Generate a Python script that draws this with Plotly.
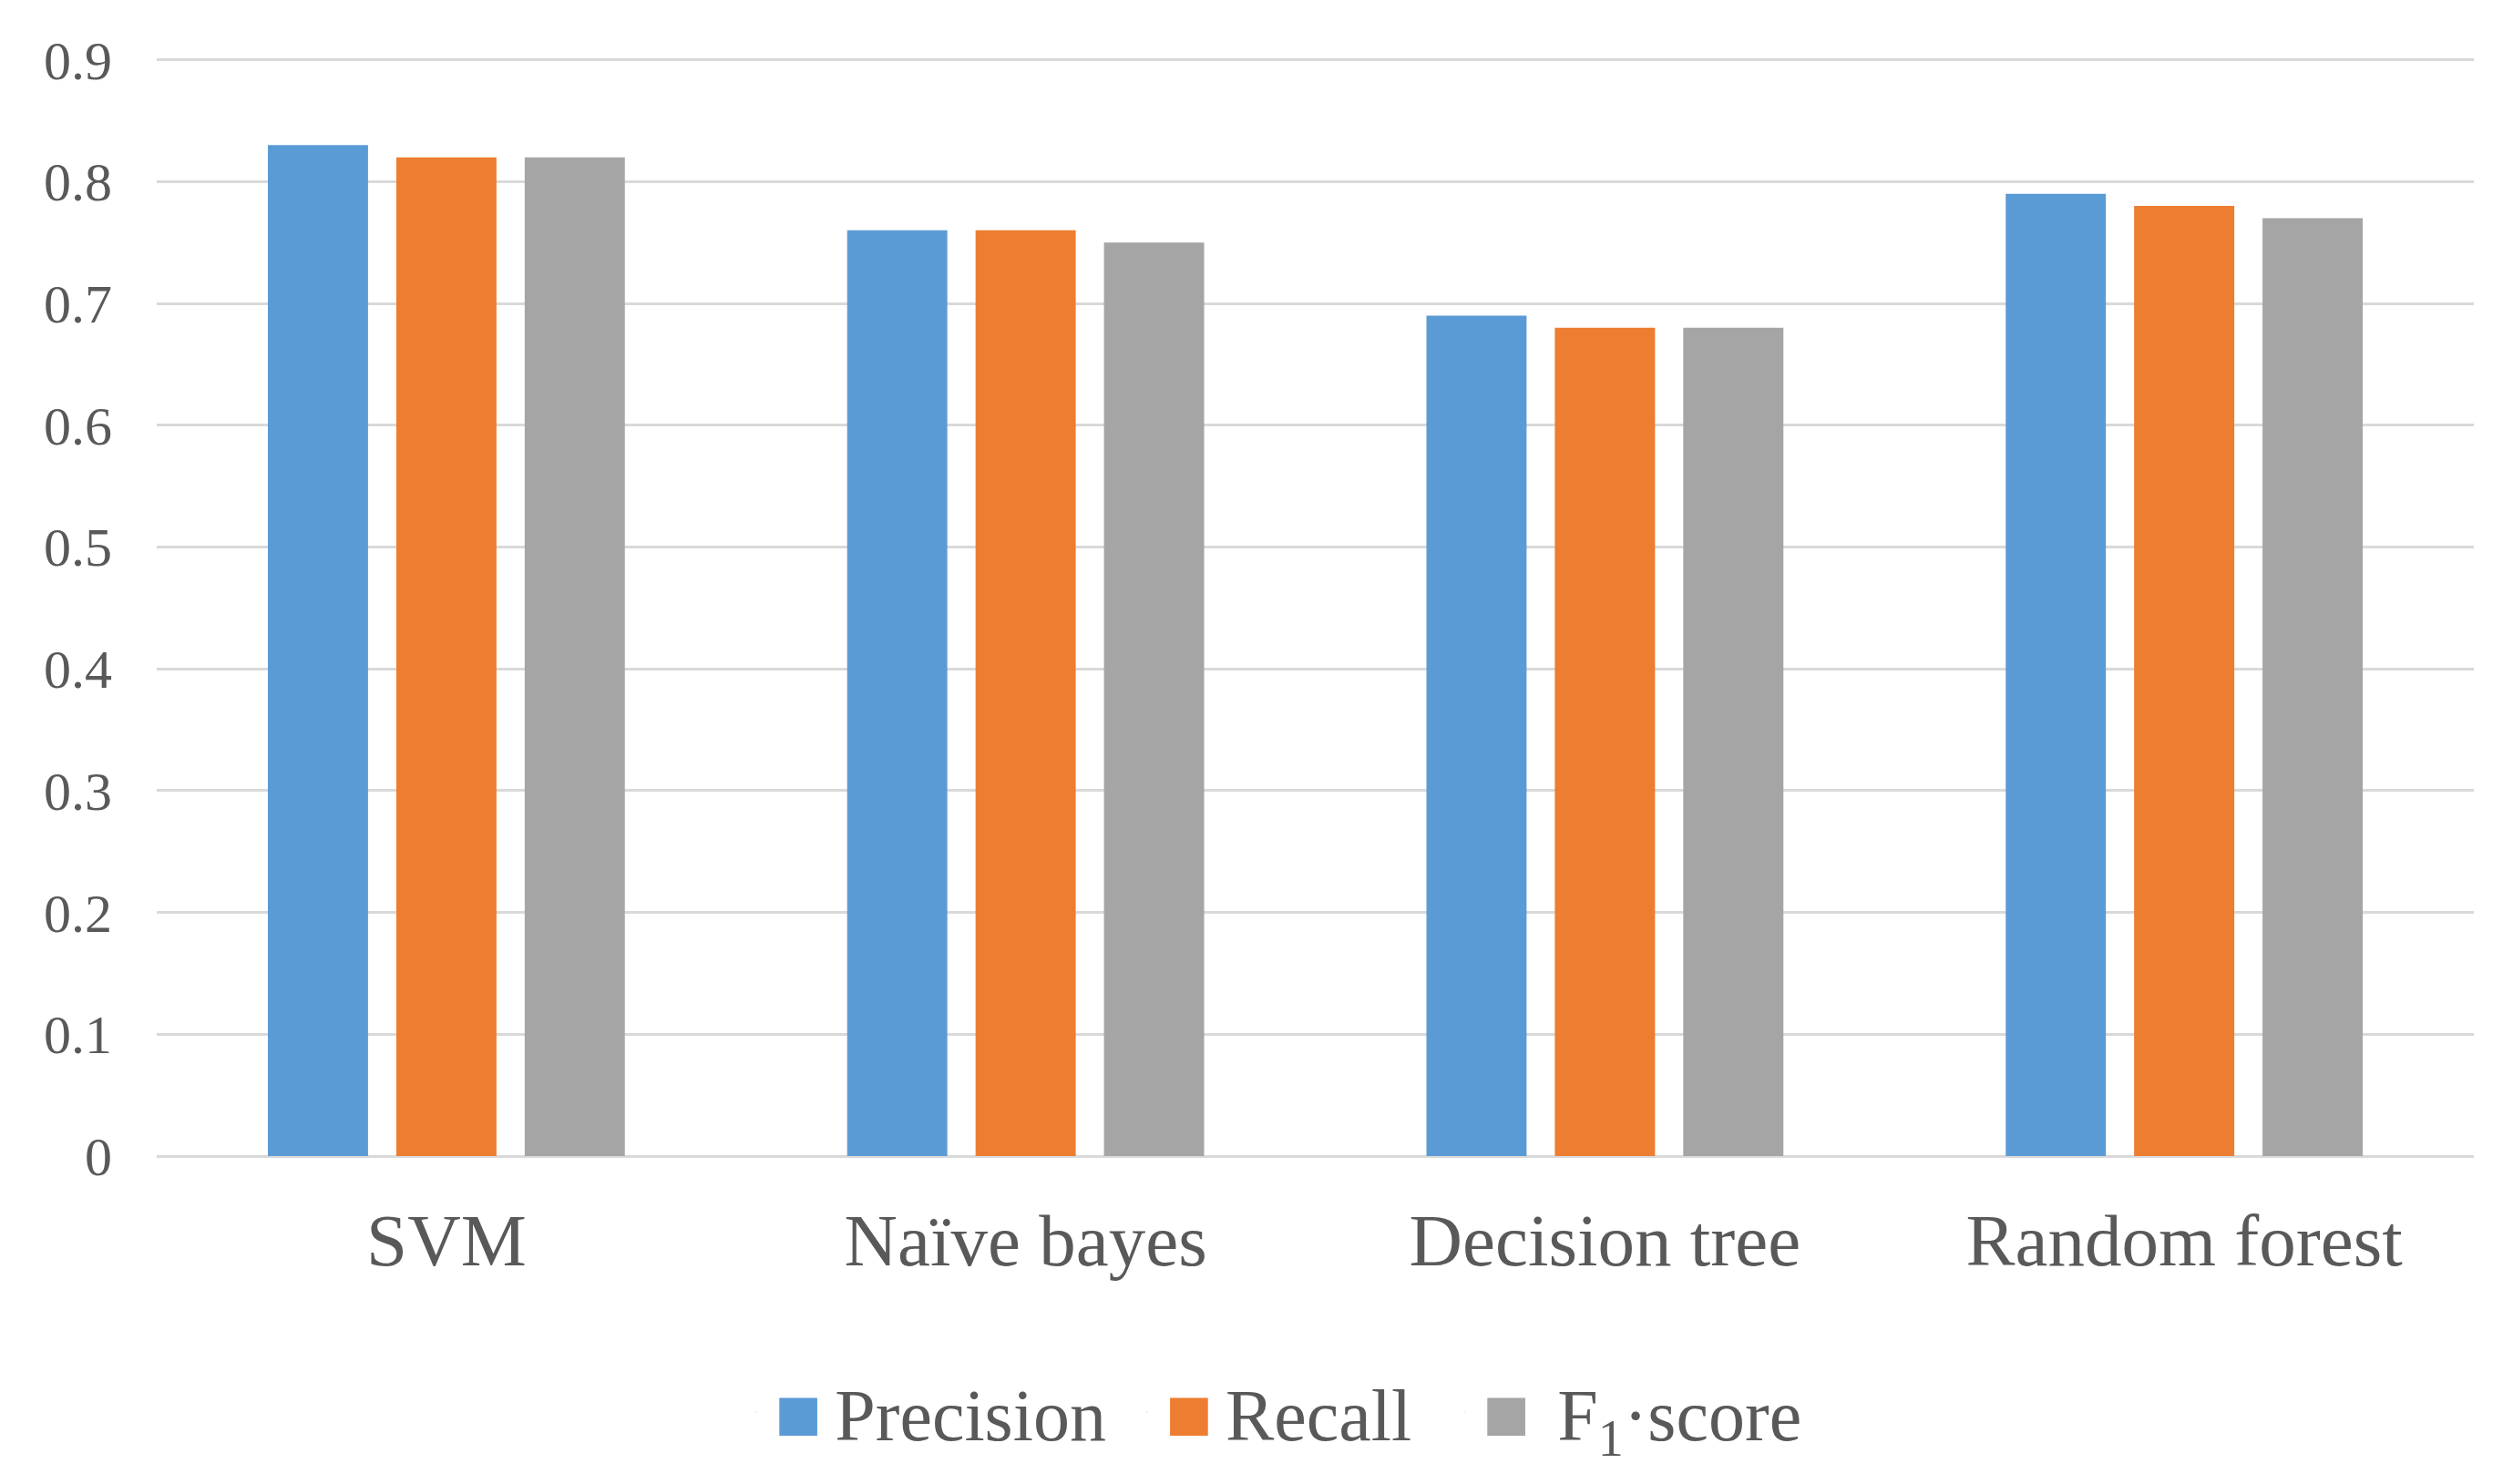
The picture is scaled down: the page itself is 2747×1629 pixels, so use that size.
import plotly.graph_objects as go

categories = ["SVM", "Naïve bayes", "Decision tree", "Random forest"]
precision = [0.83, 0.76, 0.69, 0.79]
recall = [0.82, 0.76, 0.68, 0.78]
f1_score = [0.82, 0.75, 0.68, 0.77]
series_names = ["Precision", "Recall", "F<sub>1</sub>·score"]
colors = ["#5B9BD5", "#ED7D31", "#A5A5A5"]
y_ticks = [0, 0.1, 0.2, 0.3, 0.4, 0.5, 0.6, 0.7, 0.8, 0.9]
y_tick_labels = ["0", "0.1", "0.2", "0.3", "0.4", "0.5", "0.6", "0.7", "0.8", "0.9"]

# spacing spans inside legend labels (lead after swatch, trail after text)
lead_pads = ['<span style="font-size:56px">\u00a0</span>',
             '<span style="font-size:56px">\u00a0</span>',
             '<span style="font-size:60px">\u00a0\u00a0</span>']
trail_pads = ['<span style="font-size:80px">\u00a0</span>',
              '<span style="font-size:66px">\u00a0\u00a0</span>',
              '']

font_family = "Liberation Serif, Times New Roman, serif"
fig = go.Figure()
for name, vals, col in zip(series_names, [precision, recall, f1_score], colors):
    fig.add_trace(go.Bar(x=categories, y=vals, name=name, marker_color=col,
                         marker_line_width=0, showlegend=False, legendgroup=name))
# legend entries with large square swatches
for name, lead, trail, col in zip(series_names, lead_pads, trail_pads, colors):
    fig.add_trace(go.Scatter(
        x=[None], y=[None], mode="markers", legendgroup=name,
        marker=dict(opacity=0, size=1, color=col),
        name=f'<span style="color:{col};font-size:86px">■</span>{lead}{name}{trail}',
        showlegend=True, hoverinfo="skip"))

fig.update_layout(
    width=2747, height=1629,
    paper_bgcolor="white", plot_bgcolor="white",
    barmode="group", bargap=0.335, bargroupgap=0.22,
    margin=dict(l=164, r=40, t=55.3, b=368),
    font=dict(family=font_family, color="#595959"),
    showlegend=True,
    legend=dict(orientation="h", x=0.251, xanchor="left", y=-0.233, yanchor="middle",
                font=dict(size=80, color="#595959", family=font_family),
                itemwidth=30, traceorder="normal", borderwidth=0),
)
fig.update_yaxes(range=[0, 0.902], tickvals=y_ticks, ticktext=y_tick_labels,
                 showgrid=True, gridcolor="#D9D9D9", gridwidth=3,
                 zeroline=True, zerolinecolor="#D9D9D9", zerolinewidth=3,
                 showline=False, ticks="", ticklabelstandoff=48,
                 tickfont=dict(size=60, color="#595959", family=font_family))
fig.update_xaxes(showgrid=False, showline=False, ticks="", ticklabelstandoff=38,
                 tickfont=dict(size=81, color="#595959", family=font_family))

fig.write_html("out.html")
